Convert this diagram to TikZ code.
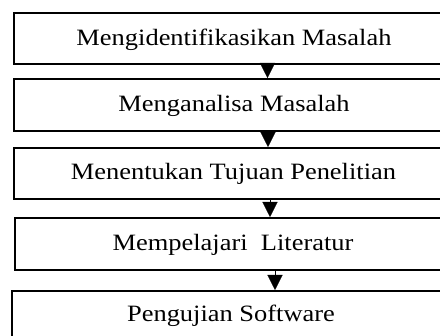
\documentclass[tikz,border=0pt]{standalone}
\usepackage{fontspec}
\setmainfont{Liberation Serif}
\usetikzlibrary{arrows.meta}
\newcommand{\widetext}[1]{\scalebox{1.13}[1]{#1}}
\begin{document}
\begin{tikzpicture}[x=1pt,y=-1pt,
  stepbox/.style={draw=black,line width=1.8pt,rectangle,inner sep=0pt,anchor=north west},
  steptext/.style={font=\fontsize{23.4}{27}\selectfont,inner sep=0pt,anchor=base},
  flow/.style={draw=black,line width=0.1pt,-{Triangle[length=15pt,width=15pt]}}]
\useasboundingbox (0,0) rectangle (440,336);
% step boxes (they run past the right edge of the page)
\node[stepbox,minimum width=600pt,minimum height=51pt] (b1) at (13,12) {};
\node[stepbox,minimum width=600pt,minimum height=52pt] (b2) at (13,78) {};
\node[stepbox,minimum width=600pt,minimum height=51pt] (b3) at (13,147) {};
\node[stepbox,minimum width=600pt,minimum height=52pt] (b4) at (14,217) {};
\node[stepbox,minimum width=600pt,minimum height=70pt] (b5) at (11,290) {};
% labels
\node[steptext] (t1) at (234,46) {\widetext{Mengidentifikasikan Masalah}};
\node[steptext] (t2) at (234,112) {\widetext{Menganalisa Masalah}};
\node[steptext] (t3) at (233.5,180) {\widetext{Menentukan Tujuan Penelitian}};
\node[steptext] (t4) at (233,251) {\widetext{Mempelajari\ \ Literatur}};
\node[steptext] (t5) at (231,322) {\widetext{Pengujian Software}};
% arrows between consecutive steps
\draw[flow] (b1.south west -| 267.5,0) -- (b2.north west -| 267.5,0);
\draw[flow] (b2.south west -| 268,0) -- (b3.north west -| 268,0);
\draw[flow] (b3.south west -| 270,0) -- (b4.north west -| 270,0);
\draw[flow] (b4.south west -| 275,0) -- (b5.north west -| 275,0);
\end{tikzpicture}
\end{document}
